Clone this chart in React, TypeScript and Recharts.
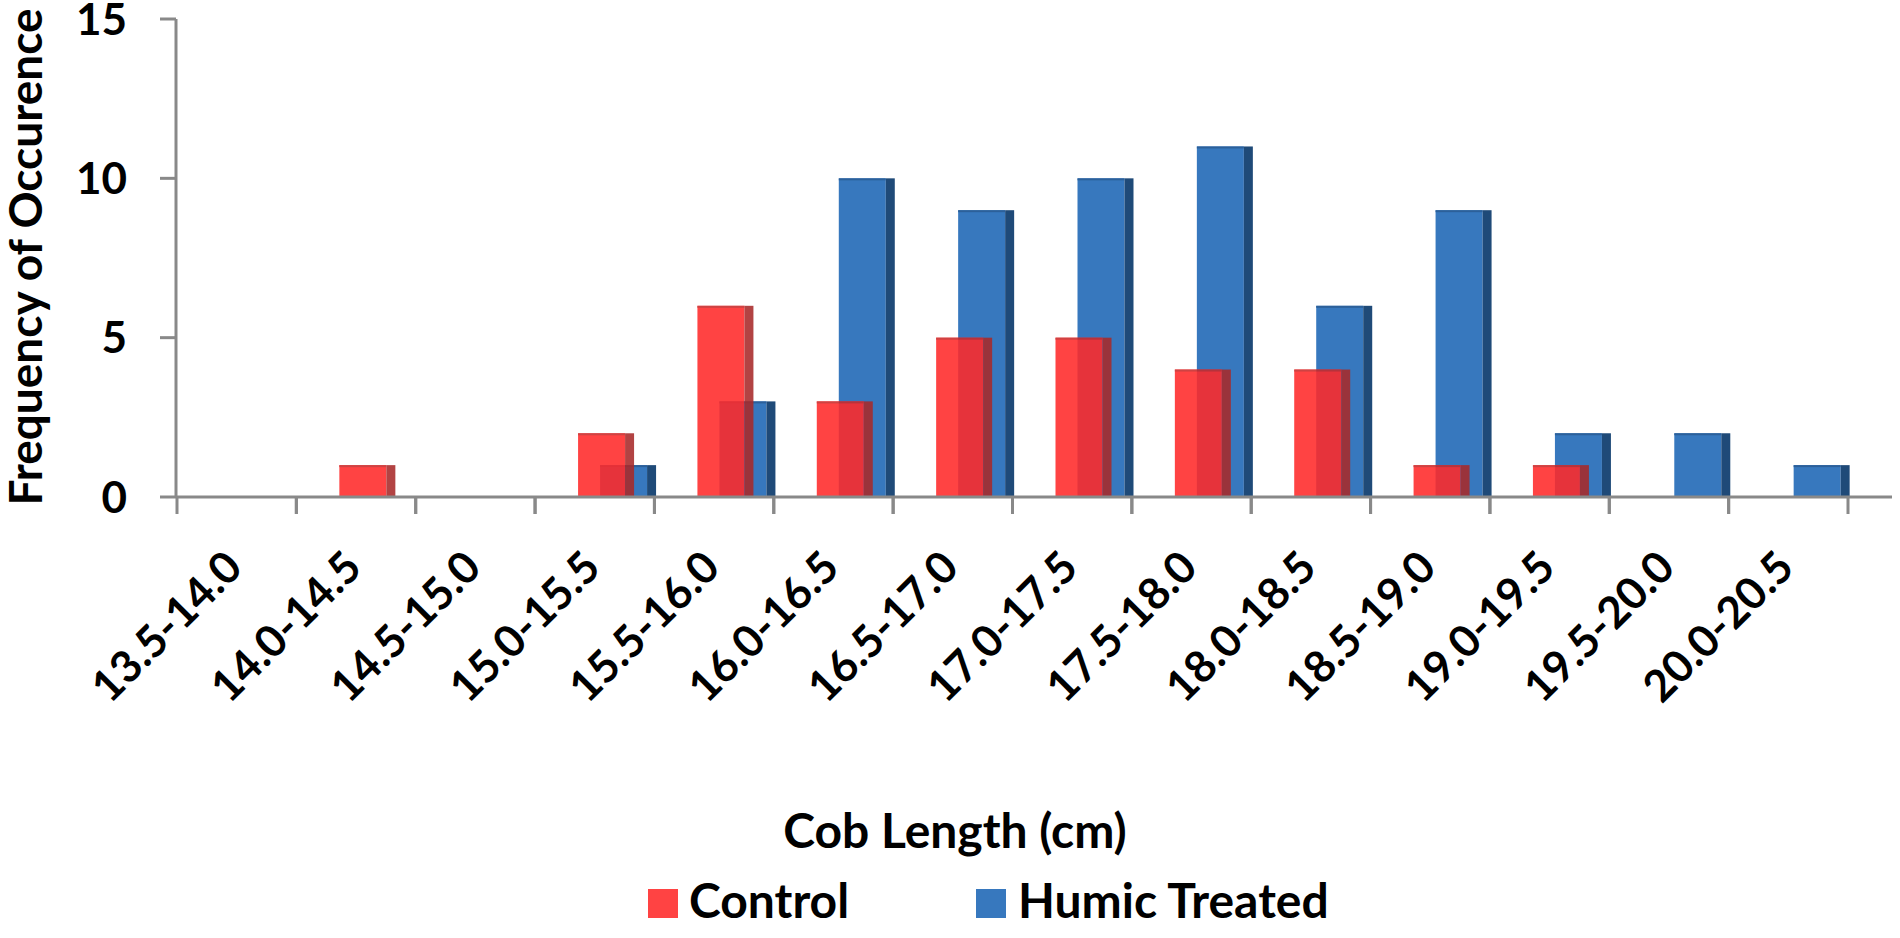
import { Bar, BarChart, XAxis, YAxis } from "recharts";

const categories = [
  "13.5-14.0",
  "14.0-14.5",
  "14.5-15.0",
  "15.0-15.5",
  "15.5-16.0",
  "16.0-16.5",
  "16.5-17.0",
  "17.0-17.5",
  "17.5-18.0",
  "18.0-18.5",
  "18.5-19.0",
  "19.0-19.5",
  "19.5-20.0",
  "20.0-20.5",
];
const controlCounts = [0, 1, 0, 2, 6, 3, 5, 5, 4, 4, 1, 1, 0, 0];
const humicCounts = [0, 0, 0, 1, 3, 10, 9, 10, 11, 6, 9, 2, 2, 1];
const yTicks = [0, 5, 10, 15];
const seriesNames = ["Control", "Humic Treated"];

const data = categories.map((cat, i) => ({
  cat,
  control: controlCounts[i],
  humic: humicCounts[i],
}));

const W = 1900;
const H = 938;
const Y_AXIS_W = 176;
const RIGHT = 8;
const TOP = 19;
const X_AXIS_H = 441;
const PLOT_W = W - Y_AXIS_W - RIGHT;
const PAD_L = 1;
const PAD_R = 44;
const BAND = (PLOT_W - PAD_L - PAD_R) / categories.length;

const FONT = "Lato, 'Open Sans', sans-serif";
const AXIS = "#898989";
const RED = "#FF2A2A";
const RED_SIDE = "#A82A2A";
const RED_TOP = "#C82A2A";
const BLUE = "#3778BE";
const BLUE_SIDE = "#1F4A78";
const BLUE_TOP = "#2C609A";

function column(props: any, side: string, top: string, opacity = 1) {
  const { x, y, width, height, fill } = props;
  if (!height || height <= 0) return <g />;
  const sw = 9;
  return (
    <g opacity={opacity}>
      <rect x={x} y={y} width={width - sw} height={height} fill={fill} />
      <rect x={x + width - sw} y={y} width={sw} height={height} fill={side} />
      <rect x={x} y={y} width={width - sw} height={2} fill={top} />
    </g>
  );
}

function CategoryTick(props: any) {
  const { x, y, payload } = props;
  const half = BAND / 2;
  const lx = x + 8;
  const ly = y + 73;
  return (
    <g>
      <line x1={x - half} x2={x - half} y1={y} y2={y + 17} stroke={AXIS} strokeWidth={3} />
      <line x1={x + half} x2={x + half} y1={y} y2={y + 17} stroke={AXIS} strokeWidth={3} />
      <text
        x={lx}
        y={ly}
        transform={`rotate(-45 ${lx} ${ly})`}
        textAnchor="end"
        fontFamily={FONT}
        fontWeight={700}
        fontSize={44}
        fill="#000"
      >
        {payload.value}
      </text>
    </g>
  );
}

export default function App() {
  return (
    <div style={{ position: "relative", width: W, height: H }}>
      <style>{"body{margin:0}"}</style>
      <BarChart
        width={W}
        height={H}
        data={data}
        margin={{ top: TOP, right: RIGHT, left: 0, bottom: 0 }}
      >
        <XAxis xAxisId="c" dataKey="cat" hide height={0} padding={{ left: 12, right: 33 }} />
        <XAxis xAxisId="h" dataKey="cat" hide height={0} padding={{ left: 34, right: 11 }} />
        <XAxis
          xAxisId="ticks"
          dataKey="cat"
          height={X_AXIS_H}
          padding={{ left: PAD_L, right: PAD_R }}
          interval={0}
          tickLine={false}
          tickSize={0}
          tickMargin={0}
          axisLine={{ stroke: AXIS, strokeWidth: 3 }}
          tick={<CategoryTick />}
        />
        <YAxis
          width={Y_AXIS_W}
          domain={[0, 15]}
          ticks={yTicks}
          interval={0}
          tickSize={16}
          tickMargin={33}
          tickLine={{ stroke: AXIS, strokeWidth: 3 }}
          axisLine={{ stroke: AXIS, strokeWidth: 3 }}
          tick={{ fontFamily: FONT, fontWeight: 700, fontSize: 44, fill: "#000" }}
        />
        <Bar
          xAxisId="h"
          dataKey="humic"
          name={seriesNames[1]}
          fill={BLUE}
          barSize={56}
          isAnimationActive={false}
          shape={(p: any) => column(p, BLUE_SIDE, BLUE_TOP)}
        />
        <Bar
          xAxisId="c"
          dataKey="control"
          name={seriesNames[0]}
          fill={RED}
          barSize={56}
          isAnimationActive={false}
          shape={(p: any) => column(p, RED_SIDE, RED_TOP, 0.88)}
        />
      </BarChart>
      <svg
        width={W}
        height={H}
        style={{ position: "absolute", left: 0, top: 0, pointerEvents: "none" }}
        fontFamily={FONT}
        fontWeight={700}
      >
        <text x={42} y={257} transform="rotate(-90 42 257)" textAnchor="middle" fontSize={46}>
          Frequency of Occurence
        </text>
        <text x={955} y={848} textAnchor="middle" fontSize={48}>
          Cob Length (cm)
        </text>
        <rect x={648} y={889} width={30} height={29} fill="#FF4343" />
        <text x={689} y={918} fontSize={48}>
          {seriesNames[0]}
        </text>
        <rect x={976} y={889} width={30} height={29} fill={BLUE} />
        <text x={1018} y={918} fontSize={48}>
          {seriesNames[1]}
        </text>
      </svg>
    </div>
  );
}
